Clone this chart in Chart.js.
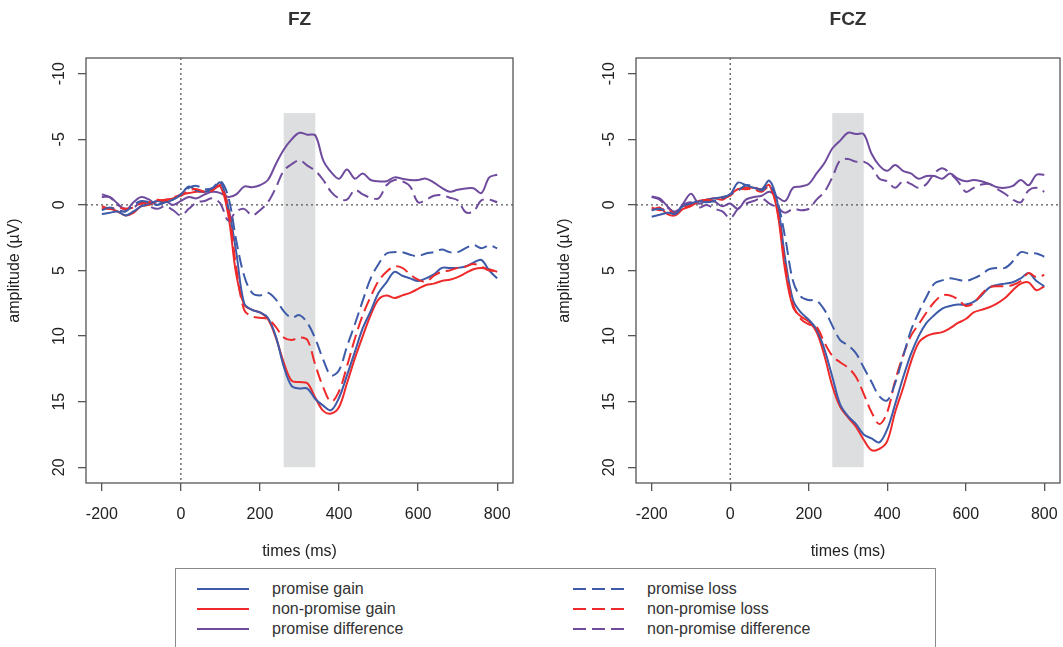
<!DOCTYPE html>
<html>
<head>
<meta charset="utf-8">
<script src="https://cdn.jsdelivr.net/npm/chart.js@4.4.1/dist/chart.umd.min.js"></script>
<style>
  body { margin: 0; background: #fff; font-family: "Liberation Sans", Arial, sans-serif; }
  #wrap { position: relative; width: 1063px; height: 647px; overflow: hidden; }
  canvas { position: absolute; top: 0; }
  #fz { left: 0; }
  #fcz { left: 550px; }
  #legend { position: absolute; left: 175px; top: 568px; width: 759px; height: 100px; border: 1px solid #8a8a8a; }
  #legend .sample { position: absolute; line-height: 0; }
  #legend .sample svg { display: block; }
  #legend .label { position: absolute; font-size: 16px; line-height: 20px; color: #333; white-space: nowrap; }
</style>
</head>
<body>
<div id="wrap">
  <canvas id="fz" width="531" height="561"></canvas>
  <canvas id="fcz" width="513" height="561"></canvas>
  <div id="legend"></div>
</div>
<script>
// time axis (ms), one sample every 20 ms
const times = [];
for (let t = -200; t <= 800; t += 20) times.push(t);
const xTicks = [-200, 0, 200, 400, 600, 800];
const yTicks = [-10, -5, 0, 5, 10, 15, 20];

// shaded analysis window
const windowStart = 260, windowEnd = 340, windowTop = -7, windowBottom = 20;

// FZ (µV)
const fzPromiseGain = [0.7,0.6,0.5,0.8,0.5,0.1,-0.1,-0.3,-0.2,-0.4,
  -0.8,-1.4,-1.1,-1.0,-1.2,-1.7,0.2,3.6,7.5,8.0,
  8.2,8.6,10.0,12.3,13.8,14.0,14.0,14.8,15.3,15.65,
  14.7,13.0,11.2,9.4,8.1,6.7,5.9,5.1,5.4,5.6,
  5.8,5.6,5.3,4.8,4.8,4.8,4.7,4.4,4.2,5.0,5.6];
const fzPromiseLoss = [0.4,0.2,0.4,0.5,0.0,-0.3,-0.2,0.0,-0.2,-0.4,
  -0.8,-1.3,-1.45,-1.2,-1.3,-1.8,-0.6,2.7,5.4,6.7,
  6.9,6.7,7.2,8.1,8.6,8.4,9.0,10.2,11.8,13.0,
  12.6,10.8,9.1,7.3,5.6,4.5,3.7,3.6,3.6,3.8,
  3.9,3.7,3.6,3.4,3.6,3.6,3.3,3.05,3.3,3.1,3.3];
const fzNonPromiseGain = [0.3,0.3,0.5,0.8,0.6,0.1,0.0,-0.3,-0.4,-0.5,
  -0.8,-0.9,-1.0,-1.0,-1.2,-1.4,0.8,5.3,7.6,8.0,
  8.2,8.7,10.1,12.0,13.4,13.5,13.6,14.7,15.7,15.9,
  15.4,13.6,11.7,10.0,8.4,7.2,6.9,7.1,6.9,6.7,
  6.4,6.1,6.0,5.8,5.7,5.5,5.2,4.9,4.8,4.9,5.1];
const fzNonPromiseLoss = [0.1,0.3,0.2,0.3,0.2,-0.1,-0.2,-0.4,-0.3,-0.6,
  -0.7,-1.1,-1.2,-1.0,-1.1,-1.5,0.3,4.8,8.0,8.5,
  8.6,8.7,9.3,10.1,10.3,10.1,10.3,12.2,13.9,15.0,
  14.2,12.3,10.2,8.4,7.0,5.8,5.1,4.7,4.8,5.3,
  5.7,5.85,5.4,5.1,5.0,4.8,4.7,4.5,4.7,5.0,5.0];
const fzPromiseDiff = [-0.6,-0.6,-0.1,0.4,-0.2,-0.6,-0.4,0.0,-0.3,0.0,
  -0.3,-0.6,-0.5,-0.8,-1.0,-0.9,-0.6,-0.8,-1.4,-1.35,
  -1.5,-1.9,-3.1,-4.2,-5.0,-5.5,-5.35,-5.3,-3.4,-2.5,
  -2.0,-2.7,-2.0,-2.4,-1.9,-1.8,-1.8,-2.1,-2.0,-1.9,
  -1.9,-2.0,-1.7,-1.3,-1.0,-1.15,-1.25,-1.27,-0.9,-2.1,-2.3];
const fzNonPromiseDiff = [-0.8,-0.6,0.0,0.3,0.2,-0.2,0.1,0.3,0.1,0.4,
  0.8,0.3,-0.2,-0.3,-0.5,-0.1,1.2,0.5,0.3,0.8,
  0.4,-0.2,-1.3,-2.6,-3.1,-3.4,-3.0,-2.6,-1.9,-1.0,
  -0.5,-0.4,-1.15,-0.8,-0.55,-0.5,-1.5,-1.9,-1.8,-1.4,
  -0.2,-0.4,-0.7,-0.75,-0.55,-0.35,0.55,0.5,-0.35,-0.4,-0.2];

// FCZ (µV)
const fczPromiseGain = [0.9,0.75,0.6,0.6,0.1,-0.1,-0.25,-0.4,-0.5,-0.6,
  -0.8,-1.7,-1.5,-1.3,-1.2,-1.85,-0.2,4.1,7.25,8.2,
  8.75,9.5,11.0,13.1,15.2,16.1,16.7,17.5,17.8,18.1,
  17.1,15.2,13.2,11.4,10.0,9.0,8.4,7.9,7.7,7.6,
  7.6,7.4,6.9,6.3,6.1,6.0,5.9,5.6,5.2,5.8,6.2];
const fczPromiseLoss = [0.4,0.3,0.5,0.7,0.1,-0.1,-0.3,-0.2,-0.3,-0.5,
  -0.8,-1.1,-1.5,-1.4,-1.1,-1.5,-0.3,2.5,5.8,7.0,
  7.25,7.3,8.0,9.2,10.3,10.7,11.3,12.4,13.5,14.6,
  14.9,13.6,11.6,9.6,8.2,7.0,6.0,5.75,5.6,5.7,
  5.8,5.6,5.3,4.9,4.8,4.8,4.3,3.6,3.7,3.7,3.95];
const fczNonPromiseGain = [0.4,0.2,0.7,0.8,0.3,0.1,-0.3,-0.4,-0.5,-0.4,
  -0.8,-1.2,-1.3,-1.3,-1.2,-1.5,0.5,5.0,7.8,8.5,
  8.9,9.7,11.5,13.8,15.4,16.2,16.9,17.9,18.7,18.6,
  18.0,15.8,14.0,12.0,10.5,10.0,9.8,9.7,9.4,9.0,
  8.7,8.2,8.0,7.8,7.5,7.1,6.5,6.0,5.9,6.5,6.2];
const fczNonPromiseLoss = [0.2,0.4,0.3,0.7,0.2,0.0,-0.2,-0.4,-0.3,-0.5,
  -0.7,-1.2,-1.2,-1.2,-1.0,-1.4,0.4,4.6,7.6,8.7,
  9.1,9.3,10.5,11.5,12.0,12.4,13.1,14.4,15.8,16.7,
  15.8,13.4,11.5,10.0,9.1,8.2,7.4,6.9,6.9,7.2,
  7.7,7.5,6.8,6.3,6.2,6.2,6.1,5.8,5.2,5.5,5.35];
const fczPromiseDiff = [-0.65,-0.5,0.1,0.6,-0.1,-0.85,-0.1,-0.3,-0.25,0.1,
  -0.1,0.3,-0.4,-0.6,-0.7,-1.0,-0.6,-0.3,-1.3,-1.4,
  -1.6,-2.4,-3.2,-4.3,-4.9,-5.5,-5.4,-5.4,-3.9,-3.0,
  -2.6,-3.05,-2.6,-2.4,-2.0,-2.2,-2.2,-2.0,-2.4,-2.0,
  -1.8,-1.9,-1.8,-1.6,-1.35,-1.3,-1.45,-1.9,-1.5,-2.3,-2.3];
const fczNonPromiseDiff = [-0.6,-0.4,0.2,0.5,0.0,-0.2,0.2,0.0,0.3,0.5,
  1.0,0.3,-0.1,-0.3,-0.5,-0.1,0.2,0.6,0.3,0.4,
  0.3,-0.4,-1.0,-2.1,-3.4,-3.5,-3.3,-3.3,-2.9,-2.0,
  -1.8,-1.3,-1.8,-1.6,-1.3,-1.6,-2.4,-2.8,-2.4,-1.8,
  -1.0,-1.3,-1.55,-1.6,-1.2,-0.85,-0.4,-0.2,-1.1,-1.3,-1.0];

const seriesNames = ['promise gain', 'non-promise gain', 'promise difference',
                     'promise loss', 'non-promise loss', 'non-promise difference'];
const blue = '#3d5ba8', red = '#ee2a2a', purple = '#6f4b9e';
const seriesColors = [blue, red, purple, blue, red, purple];
const seriesDashed = [false, false, false, true, true, true];
const dashPattern = [13, 6];

Chart.defaults.font.family = '"Liberation Sans", Arial, sans-serif';
Chart.defaults.color = '#222';

const panelDecor = {
  id: 'panelDecor',
  beforeDatasetsDraw(chart) {
    const { ctx, chartArea: a, scales: { x, y } } = chart;
    ctx.save();
    ctx.fillStyle = '#dddee0';
    const x0 = x.getPixelForValue(windowStart), x1 = x.getPixelForValue(windowEnd);
    const y0 = y.getPixelForValue(windowTop), y1 = y.getPixelForValue(windowBottom);
    ctx.fillRect(x0, y0, x1 - x0, y1 - y0);
    // dotted reference lines at 0 ms and 0 µV
    ctx.strokeStyle = '#555';
    ctx.lineWidth = 1.3;
    ctx.setLineDash([2, 3]);
    ctx.beginPath();
    const zx = x.getPixelForValue(0), zy = y.getPixelForValue(0);
    ctx.moveTo(zx, a.top); ctx.lineTo(zx, a.bottom);
    ctx.moveTo(a.left, zy); ctx.lineTo(a.right, zy);
    ctx.stroke();
    ctx.restore();
  },
  afterDraw(chart) {
    const { ctx, chartArea: a } = chart;
    ctx.save();
    ctx.strokeStyle = '#555';
    ctx.lineWidth = 1.3;
    ctx.strokeRect(a.left, a.top, a.right - a.left, a.bottom - a.top);
    ctx.restore();
  }
};

function makePanel(id, title, values, rightPad) {
  // draw dashed lines first so the solid ones sit on top
  const order = [3, 4, 5, 0, 1, 2];
  const datasets = order.map(i => ({
    label: seriesNames[i],
    data: values[i],
    borderColor: seriesColors[i],
    borderWidth: 2,
    borderDash: seriesDashed[i] ? dashPattern : [],
    pointRadius: 0,
    tension: 0.35,
    fill: false
  }));
  return new Chart(document.getElementById(id), {
    type: 'line',
    data: { labels: times, datasets },
    options: {
      responsive: false,
      animation: false,
      layout: { padding: { left: 0, right: rightPad, top: 0, bottom: 0 } },
      plugins: {
        legend: { display: false },
        tooltip: { enabled: false },
        title: {
          display: true, text: title, fullSize: false, color: '#333',
          font: { size: 19, weight: 'bold' },
          padding: { top: 8.6, bottom: 26.6 }
        }
      },
      scales: {
        x: {
          type: 'linear', min: -240, max: 840,
          afterBuildTicks: s => { s.ticks = xTicks.map(v => ({ value: v })); },
          afterFit: s => { s.height = 78; s.paddingLeft = 0; s.paddingRight = 0; },
          grid: { drawOnChartArea: false, tickLength: 8, color: '#555', lineWidth: 1.3 },
          border: { display: false },
          ticks: { font: { size: 16 }, padding: 14, autoSkip: false, maxRotation: 0 },
          title: { display: true, text: 'times (ms)', font: { size: 16 }, padding: { top: 0, bottom: 0 } }
        },
        y: {
          type: 'linear', reverse: true, min: -11.2, max: 21.2,
          afterBuildTicks: s => { s.ticks = yTicks.map(v => ({ value: v })); },
          afterFit: s => { s.width = 86; s.paddingTop = 0; s.paddingBottom = 0; },
          grid: { drawOnChartArea: false, tickLength: 8, color: '#555', lineWidth: 1.3 },
          border: { display: false },
          ticks: { font: { size: 16 }, padding: 7, minRotation: 90, maxRotation: 90, crossAlign: 'center', autoSkip: false },
          title: { display: true, text: 'amplitude (\u00b5V)', font: { size: 16 }, padding: { top: 5.4, bottom: 0 } }
        }
      }
    },
    plugins: [panelDecor]
  });
}

makePanel('fz', 'FZ', [fzPromiseGain, fzNonPromiseGain, fzPromiseDiff,
                       fzPromiseLoss, fzNonPromiseLoss, fzNonPromiseDiff], 18);
makePanel('fcz', 'FCZ', [fczPromiseGain, fczNonPromiseGain, fczPromiseDiff,
                         fczPromiseLoss, fczNonPromiseLoss, fczNonPromiseDiff], 3);

// legend box below both panels, two columns of three rows
const legend = document.getElementById('legend');
seriesNames.forEach((name, i) => {
  const col = Math.floor(i / 3), row = i % 3;
  const sx = col === 0 ? 21 : 397, tx = col === 0 ? 96 : 471, cy = 20 + row * 20;
  const dash = seriesDashed[i] ? ` stroke-dasharray="${dashPattern.join(' ')}"` : '';
  const s = document.createElement('div');
  s.className = 'sample';
  s.style.left = sx + 'px';
  s.style.top = (cy - 3) + 'px';
  s.innerHTML = `<svg width="52" height="6"><line x1="0" y1="3" x2="52" y2="3" stroke="${seriesColors[i]}" stroke-width="2.2"${dash}/></svg>`;
  legend.appendChild(s);
  const l = document.createElement('div');
  l.className = 'label';
  l.style.left = tx + 'px';
  l.style.top = (cy - 10) + 'px';
  l.textContent = name;
  legend.appendChild(l);
});
</script>
</body>
</html>
